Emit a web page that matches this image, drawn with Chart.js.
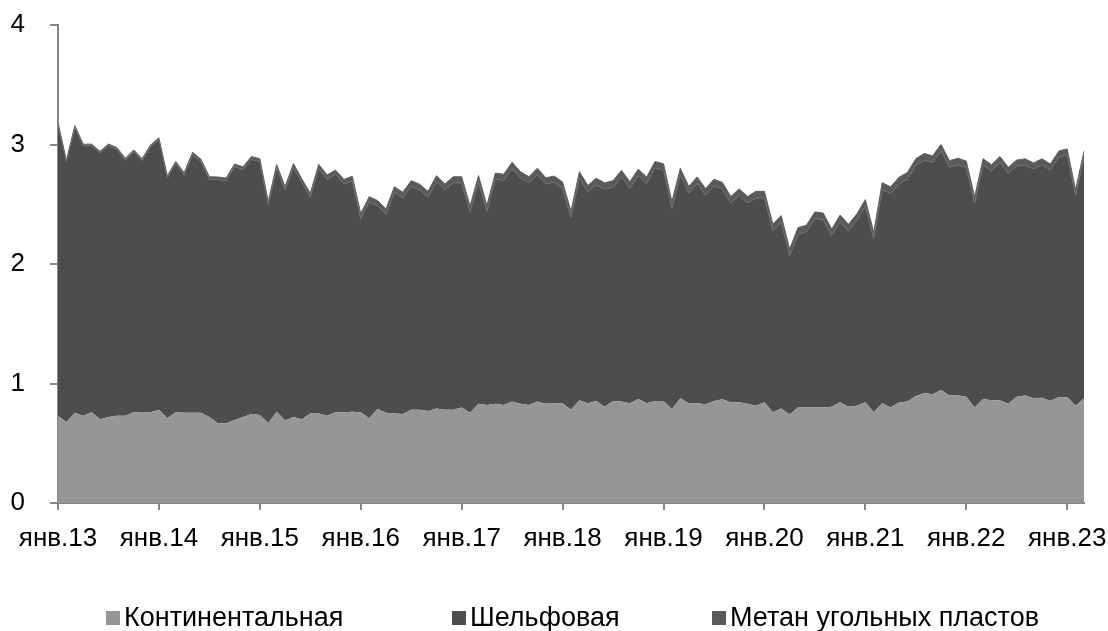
<!DOCTYPE html>
<html>
<head>
<meta charset="utf-8">
<script src="https://cdn.jsdelivr.net/npm/chart.js@4.4.1/dist/chart.umd.min.js"></script>
<style>
  html, body { margin: 0; padding: 0; background: #fff; }
  #wrap { position: relative; width: 1108px; height: 631px; }
  canvas { position: absolute; left: 0; top: 0; }
  .lg { position: absolute; top: 602px; font-family: "Liberation Sans", Arial, sans-serif; font-size: 27px; color: #000; white-space: nowrap; line-height: 30px; }
  .lg i { display: inline-block; width: 14px; height: 14px; margin-right: 4px; vertical-align: 1px; }
</style>
</head>
<body>
<div id="wrap">
  <canvas id="c" width="1108" height="631"></canvas>
  <div class="lg" style="left:106px"><i style="background:#969696"></i>Континентальная</div>
  <div class="lg" style="left:452px"><i style="background:#4d4d4d"></i>Шельфовая</div>
  <div class="lg" style="left:712px"><i style="background:#5a5a5a"></i>Метан угольных пластов</div>
</div>
<script>
// Monthly categories: Jan 2013 .. Mar 2023
const monthNames = ["янв.","фев.","мар.","апр.","май.","июн.","июл.","авг.","сен.","окт.","ноя.","дек."];
const years = ["13","14","15","16","17","18","19","20","21","22","23"];
const categories = [];
years.forEach(y => monthNames.forEach(m => categories.push(m + y)));
categories.length = 123;

const seriesNames = ["Континентальная", "Шельфовая", "Метан угольных пластов"];

const continental = [
  0.73,0.675,0.756,0.73,0.76,0.70,0.72,0.73,0.73,0.76,0.756,0.76,
  0.78,0.71,0.76,0.756,0.756,0.756,0.72,0.667,0.667,0.695,0.72,0.745,
  0.736,0.667,0.764,0.69,0.72,0.70,0.75,0.75,0.73,0.76,0.76,0.764,
  0.76,0.71,0.787,0.756,0.75,0.745,0.78,0.78,0.77,0.79,0.78,0.78,
  0.80,0.756,0.83,0.82,0.83,0.82,0.85,0.83,0.82,0.85,0.83,0.834,
  0.834,0.78,0.86,0.834,0.854,0.806,0.854,0.85,0.834,0.87,0.834,0.854,
  0.854,0.787,0.876,0.834,0.834,0.826,0.854,0.868,0.84,0.843,0.83,0.814,
  0.843,0.76,0.79,0.74,0.80,0.80,0.80,0.80,0.806,0.843,0.806,0.814,
  0.843,0.76,0.834,0.80,0.84,0.85,0.895,0.92,0.91,0.946,0.90,0.90,
  0.89,0.80,0.87,0.86,0.86,0.83,0.89,0.90,0.876,0.88,0.856,0.885,
  0.885,0.814,0.876
];

const shelf = [
  2.44,2.18,2.39,2.26,2.23,2.23,2.27,2.23,2.14,2.18,2.11,2.22,
  2.26,2.01,2.08,1.99,2.16,2.10,1.99,2.04,2.03,2.12,2.07,2.13,
  2.12,1.83,2.04,1.93,2.09,1.98,1.81,2.05,1.98,1.99,1.91,1.93,
  1.62,1.81,1.70,1.66,1.85,1.81,1.87,1.84,1.79,1.90,1.84,1.90,
  1.88,1.68,1.86,1.62,1.88,1.88,1.95,1.89,1.86,1.90,1.84,1.85,
  1.80,1.61,1.86,1.77,1.81,1.82,1.79,1.88,1.80,1.87,1.84,1.95,
  1.93,1.68,1.87,1.76,1.84,1.75,1.80,1.76,1.67,1.73,1.68,1.74,
  1.71,1.52,1.56,1.33,1.45,1.47,1.58,1.57,1.43,1.51,1.47,1.55,
  1.64,1.45,1.79,1.79,1.83,1.86,1.93,1.95,1.94,2.00,1.91,1.93,
  1.92,1.71,1.96,1.92,1.99,1.93,1.93,1.93,1.92,1.95,1.93,2.01,
  2.03,1.76,2.02
];

const methane = [
  0.012,0.012,0.012,0.013,0.013,0.013,0.014,0.014,0.014,0.015,0.015,0.015,
  0.016,0.017,0.018,0.018,0.019,0.020,0.020,0.021,0.022,0.022,0.023,0.024,
  0.025,0.026,0.028,0.029,0.030,0.031,0.032,0.034,0.035,0.036,0.038,0.040,
  0.042,0.043,0.044,0.045,0.046,0.046,0.047,0.048,0.048,0.049,0.050,0.050,
  0.050,0.050,0.050,0.050,0.051,0.051,0.051,0.051,0.051,0.052,0.052,0.052,
  0.052,0.052,0.053,0.053,0.053,0.053,0.053,0.054,0.054,0.054,0.054,0.054,
  0.055,0.055,0.055,0.055,0.055,0.055,0.055,0.055,0.055,0.055,0.055,0.055,
  0.055,0.055,0.055,0.055,0.055,0.055,0.056,0.056,0.056,0.056,0.056,0.056,
  0.056,0.056,0.056,0.056,0.056,0.056,0.056,0.055,0.055,0.055,0.055,0.055,
  0.052,0.052,0.051,0.051,0.050,0.050,0.050,0.050,0.050,0.050,0.050,0.050,
  0.048,0.048,0.048
];

const yTicks = [0, 1, 2, 3, 4];

const FONT = { family: "'Liberation Sans', Arial, sans-serif", size: 26 };
const AXIS = '#868686';

new Chart(document.getElementById('c'), {
  type: 'line',
  data: {
    labels: categories,
    datasets: [
      { label: seriesNames[0], data: continental, backgroundColor: '#969696', borderColor: '#969696', borderWidth: 0, fill: 'origin' },
      { label: seriesNames[1], data: shelf, backgroundColor: '#4d4d4d', borderColor: '#6f6f6f', borderWidth: 1, fill: '-1' },
      { label: seriesNames[2], data: methane, backgroundColor: '#5a5a5a', borderColor: '#626262', borderWidth: 1, fill: '-1' }
    ]
  },
  options: {
    responsive: false,
    animation: false,
    devicePixelRatio: 1,
    layout: { padding: { left: 0, right: 24, top: 25, bottom: 0 } },
    elements: { point: { radius: 0 }, line: { tension: 0 } },
    plugins: { legend: { display: false }, tooltip: { enabled: false } },
    scales: {
      x: {
        type: 'category',
        offset: false,
        border: { color: AXIS, width: 2 },
        grid: { drawOnChartArea: false, color: AXIS, lineWidth: 2, tickLength: 7 },
        ticks: {
          autoSkip: false, maxRotation: 0, minRotation: 0, color: '#000', font: FONT, padding: 13,
          callback: function (v, i) { return i % 12 === 0 ? categories[i] : null; }
        },
        afterFit: s => { s.height = 128; s.paddingLeft = 0; s.paddingRight = 0; }
      },
      y: {
        stacked: true,
        min: yTicks[0], max: yTicks[yTicks.length - 1],
        border: { color: AXIS, width: 2 },
        grid: { drawOnChartArea: false, color: AXIS, lineWidth: 2, tickLength: 8 },
        afterBuildTicks: s => { s.ticks = yTicks.map(v => ({ value: v })); },
        ticks: { color: '#000', font: FONT, padding: 25, callback: v => String(v) },
        afterFit: s => { s.width = 58; s.paddingTop = 0; s.paddingBottom = 0; }
      }
    }
  }
});
</script>
</body>
</html>
